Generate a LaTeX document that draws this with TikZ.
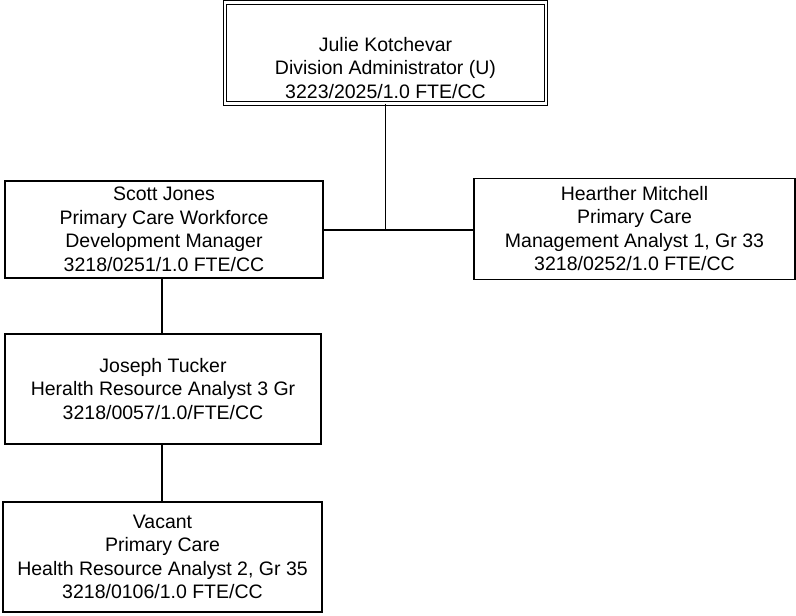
\documentclass[tikz,border=0pt]{standalone}
\usepackage{fontspec}
\setmainfont{Liberation Sans}
\begin{document}
\begin{tikzpicture}[x=1pt,y=-1pt,
  txt/.style={align=center,inner sep=0pt,font=\fontsize{19.5}{23.5}\selectfont},
  box/.style={txt,draw,line width=1.2pt,rectangle},
  conn/.style={line width=1.3pt}]
\useasboundingbox (0,0) rectangle (796,616);
\node[draw,rectangle,double,line width=0.9pt,double distance=2.6pt,minimum width=321pt,minimum height=101pt,inner sep=0pt] (top) at (385.5,53) {};
\node[txt] (toptext) at ([yshift=-15pt]top.center)
  {Julie Kotchevar\\Division Administrator (U)\\3223/2025/1.0 FTE/CC};
\node[box,minimum width=318pt,minimum height=97pt] (scott) at (164,229.5)
  {Scott Jones\\Primary Care Workforce\\Development Manager\\3218/0251/1.0 FTE/CC};
\node[box,minimum width=321pt,minimum height=101pt] (mitch) at (634.5,228.7)
  {Hearther Mitchell\\Primary Care\\Management Analyst 1, Gr 33\\3218/0252/1.0 FTE/CC};
\node[box,minimum width=316pt,minimum height=110pt] (joseph) at (163,389)
  {Joseph Tucker\\Heralth Resource Analyst 3 Gr\\3218/0057/1.0/FTE/CC};
\node[box,minimum width=319pt,minimum height=110pt] (vacant) at (162.5,557)
  {Vacant\\Primary Care\\Health Resource Analyst 2, Gr 35\\3218/0106/1.0 FTE/CC};
\coordinate (j) at (385.7,230);
\draw[conn] (top.south -| j) -- (j);
\draw[conn] (scott.east |- j) -- (mitch.west |- j);
\draw[conn] (scott.south -| 162,0) -- (joseph.north -| 162,0);
\draw[conn] (joseph.south -| 162,0) -- (vacant.north -| 162,0);
\end{tikzpicture}
\end{document}
